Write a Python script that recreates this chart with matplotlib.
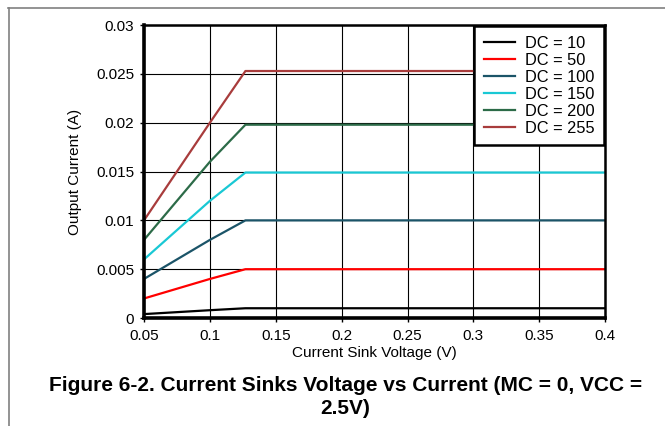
import matplotlib
matplotlib.use('Agg')
import matplotlib.pyplot as plt
from matplotlib.lines import Line2D

plt.rcParams['font.family'] = ['Liberation Sans', 'DejaVu Sans']

# sink voltage sample points (V)
voltage = [0.05, 0.1, 0.127, 0.15, 0.2, 0.25, 0.3, 0.35, 0.4]

# output current (A) per duty cycle setting
dc_10 = [0.0004, 0.0008, 0.001, 0.001, 0.001, 0.001, 0.001, 0.001, 0.001]
dc_50 = [0.002, 0.004, 0.005, 0.005, 0.005, 0.005, 0.005, 0.005, 0.005]
dc_100 = [0.004, 0.008, 0.0100, 0.0100, 0.0100, 0.0100, 0.0100, 0.0100, 0.0100]
dc_150 = [0.006, 0.012, 0.0149, 0.0149, 0.0149, 0.0149, 0.0149, 0.0149, 0.0149]
dc_200 = [0.008, 0.016, 0.0198, 0.0198, 0.0198, 0.0198, 0.0198, 0.0198, 0.0198]
dc_255 = [0.010, 0.020, 0.0253, 0.0253, 0.0253, 0.0253, 0.0253, 0.0253, 0.0253]

labels = ['DC = 10', 'DC = 50', 'DC = 100', 'DC = 150', 'DC = 200', 'DC = 255']
series = [dc_10, dc_50, dc_100, dc_150, dc_200, dc_255]
colors = ['#000000', '#ff0000', '#1b5468', '#19c8d4', '#2c6b48', '#a83c3c']

fig = plt.figure(figsize=(6.65, 4.26), dpi=100)

# page frame lines (top and left)
fig.add_artist(Line2D([0.012, 1.0], [0.982, 0.982], transform=fig.transFigure,
                      color='#808080', lw=1.2))
fig.add_artist(Line2D([0.0135, 0.0135], [0.0, 0.982], transform=fig.transFigure,
                      color='#808080', lw=1.2))

ax = fig.add_axes([0.2165, 0.2535, 0.6935, 0.6875])

for vals, lab, c in zip(series, labels, colors):
    ax.plot(voltage, vals, color=c, lw=1.6, label=lab)

ax.set_xlim(0.05, 0.4)
ax.set_ylim(0, 0.03)
ax.set_xticks([0.05, 0.1, 0.15, 0.2, 0.25, 0.3, 0.35, 0.4])
ax.set_xticklabels(['0.05', '0.1', '0.15', '0.2', '0.25', '0.3', '0.35', '0.4'])
ax.set_yticks([0, 0.005, 0.01, 0.015, 0.02, 0.025, 0.03])
ax.set_yticklabels(['0', '0.005', '0.01', '0.015', '0.02', '0.025', '0.03'])
ax.tick_params(axis='both', labelsize=11, length=3, width=1, direction='out')
ax.tick_params(axis='x', pad=5)
ax.tick_params(axis='y', pad=4)
ax.grid(True, color='#000000', lw=0.8)
ax.set_axisbelow(True)

for side, w in [('left', 2.6), ('bottom', 2.6), ('top', 1.8), ('right', 1.8)]:
    ax.spines[side].set_linewidth(w)
    ax.spines[side].set_color('black')

ax.set_xlabel('Current Sink Voltage (V)', fontsize=11, labelpad=2)
ax.set_ylabel('Output Current (A)', fontsize=11, labelpad=10)

leg = ax.legend(loc='upper right', fontsize=11.8, frameon=True, fancybox=False,
                borderaxespad=0.05, handlelength=1.9, handletextpad=0.6,
                labelspacing=0.12, borderpad=0.6)
leg.get_frame().set_edgecolor('black')
leg.get_frame().set_linewidth(1.8)
leg.get_frame().set_alpha(1.0)

fig.text(0.519, 0.068, 'Figure 6-2. Current Sinks Voltage vs Current (MC = 0, VCC =\n2.5V)',
         ha='center', va='center', fontsize=15, fontweight='bold',
         linespacing=1.3)

fig.savefig('out.png', dpi=100)
